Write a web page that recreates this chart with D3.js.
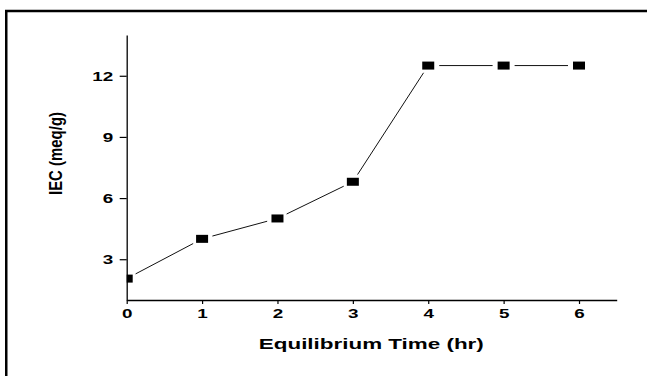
<!DOCTYPE html>
<html>
<head>
<meta charset="utf-8">
<script src="https://cdn.jsdelivr.net/npm/d3@7"></script>
<style>
  body { margin: 0; background: #fff; }
  svg { display: block; }
</style>
</head>
<body>
<div id="chart"></div>
<script>
// data
const times = [0, 1, 2, 3, 4, 5, 6];
const iec = [2.05, 4.0, 5.0, 6.8, 12.5, 12.5, 12.5];
const xTicks = [0, 1, 2, 3, 4, 5, 6];
const yTicks = [3, 6, 9, 12];
const xTitle = 'Equilibrium Time (hr)';
const yTitle = 'IEC (meq/g)';

const width = 647;
const height = 376;
const fontFamily = "Arial, 'Liberation Sans', sans-serif";
const stretch = 1.45; // the original figure is stretched sideways

const plot = {left: 126.7, right: 616.7, top: 35, bottom: 300};

const svg = d3.select('#chart')
  .append('svg')
  .attr('width', width)
  .attr('height', height);

// frame, only top and left edges fall inside the picture
svg.append('rect')
  .attr('x', 6.25)
  .attr('y', 11)
  .attr('width', 700)
  .attr('height', 400)
  .attr('fill', 'none')
  .attr('stroke', '#000')
  .attr('stroke-width', 2.5);

const xScale = d3.scaleLinear().domain([0, 6.5]).range([plot.left, plot.right]);
const yScale = d3.scaleLinear().domain([1, 14]).range([plot.bottom, plot.top]);

svg.append('defs')
  .append('clipPath')
  .attr('id', 'plot-clip')
  .append('rect')
  .attr('x', plot.left)
  .attr('y', plot.top)
  .attr('width', plot.right - plot.left)
  .attr('height', plot.bottom - plot.top);

const pts = times.map((t, i) => [xScale(t), yScale(iec[i])]);

// line segments stop short of the markers
function gap(ux, uy) {
  const rx = 11, ry = 8;
  return 1 / Math.sqrt((ux / rx) ** 2 + (uy / ry) ** 2);
}

const lineGroup = svg.append('g').attr('clip-path', 'url(#plot-clip)');
for (let i = 0; i < pts.length - 1; i++) {
  const [x1, y1] = pts[i];
  const [x2, y2] = pts[i + 1];
  const len = Math.hypot(x2 - x1, y2 - y1);
  const ux = (x2 - x1) / len, uy = (y2 - y1) / len;
  const g = gap(ux, uy);
  lineGroup.append('line')
    .attr('x1', x1 + ux * g)
    .attr('y1', y1 + uy * g)
    .attr('x2', x2 - ux * g)
    .attr('y2', y2 - uy * g)
    .attr('stroke', '#111')
    .attr('stroke-width', 1);
}

lineGroup.selectAll('rect.marker')
  .data(pts)
  .enter()
  .append('rect')
  .attr('class', 'marker')
  .attr('x', d => d[0] - 6)
  .attr('y', d => d[1] - 4)
  .attr('width', 12)
  .attr('height', 8)
  .attr('fill', '#000');

// axes
const xAxis = svg.append('g')
  .attr('transform', `translate(0, ${plot.bottom})`)
  .call(d3.axisBottom(xScale).tickValues(xTicks).tickSize(4).tickSizeOuter(0).tickFormat(d3.format('d')));

const yAxis = svg.append('g')
  .attr('transform', `translate(${plot.left}, 0)`)
  .call(d3.axisLeft(yScale).tickValues(yTicks).tickSize(7).tickSizeOuter(0).tickFormat(d3.format('d')));

[xAxis, yAxis].forEach(ax => {
  ax.select('.domain').attr('stroke', '#000').attr('stroke-width', 1.3);
  ax.selectAll('.tick line').attr('stroke', '#000').attr('stroke-width', 1.2);
  ax.selectAll('.tick text')
    .attr('fill', '#000')
    .style('font-family', fontFamily)
    .style('font-size', '13px')
    .style('font-weight', 'bold');
});

xAxis.selectAll('.tick text')
  .attr('y', 18.3)
  .attr('dy', 0)
  .attr('transform', `scale(${stretch}, 1)`);

yAxis.selectAll('.tick text')
  .attr('x', -13.4 / stretch)
  .attr('dy', '0.35em')
  .attr('transform', `scale(${stretch}, 1)`);

// titles
svg.append('text')
  .attr('x', 371.3)
  .attr('y', 349.3)
  .attr('text-anchor', 'middle')
  .attr('textLength', 225)
  .attr('lengthAdjust', 'spacingAndGlyphs')
  .style('font-family', fontFamily)
  .style('font-size', '15px')
  .style('font-weight', 'bold')
  .attr('fill', '#000')
  .text(xTitle);

svg.append('text')
  .attr('transform', 'translate(62, 153.5) rotate(-90) scale(1, 1.35)')
  .attr('text-anchor', 'middle')
  .attr('textLength', 83)
  .attr('lengthAdjust', 'spacingAndGlyphs')
  .style('font-family', fontFamily)
  .style('font-size', '14px')
  .style('font-weight', 'bold')
  .attr('fill', '#000')
  .text(yTitle);
</script>
</body>
</html>
